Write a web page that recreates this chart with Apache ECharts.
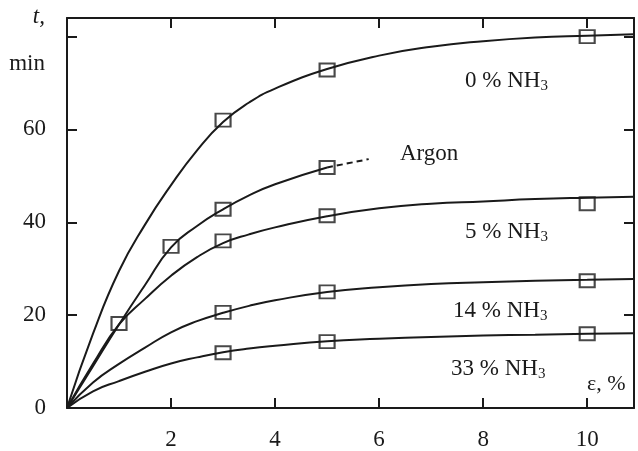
<!DOCTYPE html>
<html>
<head>
<meta charset="utf-8">
<script src="https://cdn.jsdelivr.net/npm/echarts@6/dist/echarts.min.js"></script>
<style>
  html, body { margin: 0; padding: 0; background: #fff; }
  #chart { width: 638px; height: 451px; }
</style>
</head>
<body>
<div id="chart"></div>
<script>
// strain eps (%) vs time t (min)
var curveEps = [0, 0.5, 1, 1.5, 2, 2.5, 3, 3.5, 4, 5, 6, 7, 8, 9, 10, 10.9];
var curve0 = [0, 16, 29.5, 39.5, 48, 55.5, 61.6, 65.8, 68.8, 73, 75.9, 77.8, 79, 79.8, 80.2, 80.5];
var curve5 = [0, 9.5, 18, 23.5, 28.5, 32.5, 35.5, 37.4, 38.9, 41.3, 43, 44, 44.5, 45, 45.3, 45.5];
var curve14 = [0, 5.5, 9.5, 13, 16.3, 18.7, 20.5, 22, 23.2, 25, 26, 26.7, 27.1, 27.4, 27.6, 27.8];
var curve33 = [0, 3.6, 5.8, 7.8, 9.6, 10.9, 12, 12.8, 13.4, 14.4, 14.9, 15.3, 15.6, 15.8, 16, 16.1];
var argonEps = [0, 0.5, 1, 1.5, 2, 2.5, 3, 3.5, 4, 5];
var argonT = [0, 9, 18, 26.5, 34.6, 39.2, 42.8, 45.8, 48.2, 51.8];
var argonTailEps = [5, 5.8];
var argonTailT = [51.8, 53.6];

// measured points (squares)
var pts0 = [[3, 62], [5, 72.8], [10, 80]];
var ptsArgon = [[2, 34.8], [3, 42.8], [5, 51.8]];
var pts5 = [[1, 18.2], [3, 36], [5, 41.4], [10, 44]];
var pts14 = [[3, 20.6], [5, 25], [10, 27.4]];
var pts33 = [[3, 11.9], [5, 14.3], [10, 16]];

var labels = ['0 % NH', 'Argon', '5 % NH', '14 % NH', '33 % NH'];

var ink = '#1a1a1a';
var serif = '"Liberation Serif", "DejaVu Serif", serif';
var fs = 23;

function zip(xs, ys) {
  return xs.map(function (x, i) { return [x, ys[i]]; });
}

function curve(xs, ys, dashed) {
  return {
    type: 'line',
    data: zip(xs, ys),
    smooth: 0.5,
    showSymbol: false,
    symbol: 'none',
    lineStyle: { color: ink, width: 2, type: dashed ? [6, 4] : 'solid' },
    z: 2
  };
}

function squares(pts) {
  return {
    type: 'scatter',
    data: pts,
    symbol: 'rect',
    symbolSize: [15, 13],
    itemStyle: { color: 'rgba(255,255,255,0)', borderColor: ink, borderWidth: 2 },
    z: 3
  };
}

function sub(x, y, main) {
  return {
    type: 'text', left: x, top: y,
    style: {
      text: '{a|' + main + '}{b|3}',
      rich: {
        a: { fontFamily: serif, fontSize: fs, fill: ink, lineHeight: 26 },
        b: { fontFamily: serif, fontSize: 15, fill: ink, lineHeight: 15, verticalAlign: 'bottom' }
      }
    }
  };
}

var chart = echarts.init(document.getElementById('chart'));

function axis(extra) {
  return Object.assign({
    type: 'value',
    min: 0,
    axisLine: { show: true, onZero: false, lineStyle: { color: ink, width: 2 } },
    axisTick: { show: true, inside: true, length: 10, lineStyle: { color: ink, width: 2 } },
    splitLine: { show: false }
  }, extra);
}

chart.setOption({
  animation: false,
  backgroundColor: '#fff',
  grid: { left: 67, right: 4, top: 18, bottom: 41 },
  xAxis: [
    axis({
      position: 'bottom', max: 10.9, interval: 2,
      axisLabel: {
        margin: 20, color: ink, fontFamily: serif, fontSize: fs,
        showMaxLabel: false,
        formatter: function (v) { return (v === 0 || v > 10) ? '' : String(v); }
      }
    }),
    axis({ position: 'top', max: 10.9, interval: 2, axisLabel: { show: false } })
  ],
  yAxis: [
    axis({
      position: 'left', max: 84, interval: 20,
      axisLabel: {
        margin: 21, color: ink, fontFamily: serif, fontSize: fs,
        showMaxLabel: false,
        formatter: function (v) { return (v === 80 || v === 84) ? '' : String(v); }
      }
    }),
    axis({ position: 'right', max: 84, interval: 20, axisLabel: { show: false } })
  ],
  series: [
    curve(curveEps, curve0),
    curve(argonEps, argonT),
    curve(argonTailEps, argonTailT, true),
    curve(curveEps, curve5),
    curve(curveEps, curve14),
    curve(curveEps, curve33),
    squares(pts0),
    squares(ptsArgon),
    squares(pts5),
    squares(pts14),
    squares(pts33)
  ],
  graphic: [
    sub(465, 69, labels[0]),
    { type: 'text', left: 400, top: 142, style: { text: labels[1], font: fs + 'px ' + serif, fill: ink } },
    sub(465, 220, labels[2]),
    sub(453, 299, labels[3]),
    sub(451, 357, labels[4]),
    { type: 'text', left: 587, top: 373, style: { text: 'ε, %', font: '22px ' + serif, fill: ink } },
    { type: 'text', right: 593, top: 5, style: { text: 't,', font: 'italic ' + fs + 'px ' + serif, fill: ink } },
    { type: 'text', right: 593, top: 52, style: { text: 'min', font: fs + 'px ' + serif, fill: ink } }
  ]
});
</script>
</body>
</html>
